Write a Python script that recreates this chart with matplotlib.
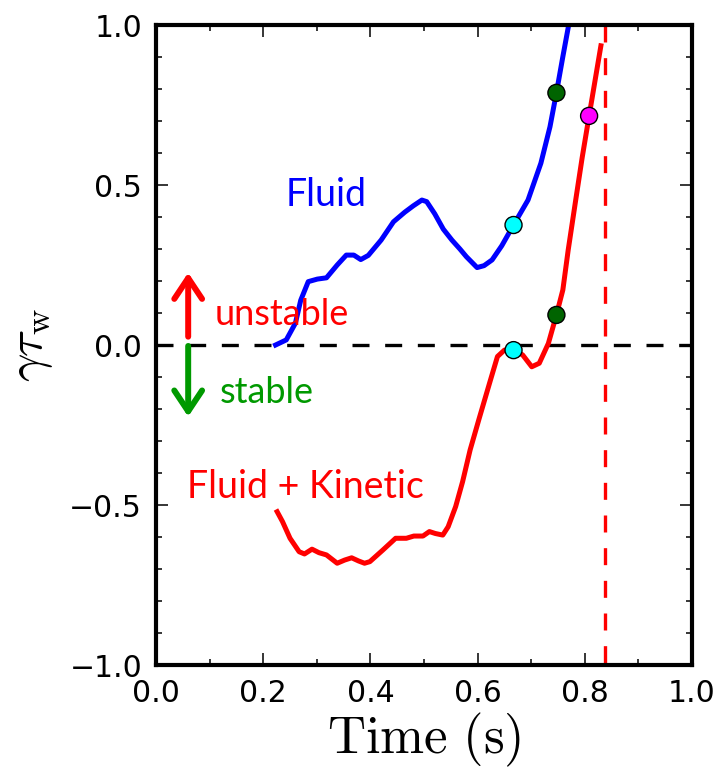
import numpy as np
import matplotlib
matplotlib.use('Agg')
import matplotlib.pyplot as plt

# curva fluida (azul)
t_fluid = [0.223, 0.243, 0.260, 0.270, 0.284, 0.301, 0.318, 0.338, 0.355, 0.369,
           0.382, 0.396, 0.420, 0.443, 0.464, 0.480, 0.496, 0.505, 0.520, 0.536,
           0.552, 0.567, 0.579, 0.599, 0.612, 0.627, 0.645, 0.667, 0.694, 0.718,
           0.735, 0.747, 0.759, 0.771]
g_fluid = [0.000, 0.016, 0.068, 0.140, 0.198, 0.206, 0.210, 0.250, 0.281, 0.281,
           0.267, 0.280, 0.328, 0.385, 0.415, 0.435, 0.453, 0.448, 0.410, 0.362,
           0.328, 0.300, 0.276, 0.242, 0.248, 0.266, 0.310, 0.375, 0.453, 0.568,
           0.682, 0.788, 0.901, 1.010]

# curva fluida + cinetica (roja)
t_kin = [0.226, 0.236, 0.250, 0.267, 0.277, 0.291, 0.304, 0.318, 0.338, 0.352,
         0.365, 0.378, 0.389, 0.399, 0.423, 0.447, 0.467, 0.481, 0.498, 0.510,
         0.521, 0.535, 0.545, 0.559, 0.572, 0.586, 0.603, 0.623, 0.637, 0.650,
         0.667, 0.684, 0.701, 0.715, 0.732, 0.747, 0.759, 0.769, 0.783, 0.795,
         0.808, 0.830]
g_kin = [-0.521, -0.552, -0.604, -0.646, -0.653, -0.638, -0.649, -0.656, -0.682, -0.672,
         -0.665, -0.675, -0.682, -0.677, -0.641, -0.604, -0.604, -0.597, -0.597, -0.583,
         -0.589, -0.594, -0.568, -0.505, -0.427, -0.328, -0.229, -0.115, -0.036, -0.016,
         -0.016, -0.031, -0.068, -0.057, 0.005, 0.094, 0.172, 0.297, 0.453, 0.585,
         0.716, 0.935]

# puntos marcados
pt_t = [0.667, 0.747, 0.667, 0.747, 0.808]
pt_g = [0.375, 0.788, -0.016, 0.094, 0.716]
pt_c = ['#00ffff', '#006400', '#00ffff', '#006400', '#ff00ff']

t_disrupt = 0.838

plt.rcParams['mathtext.fontset'] = 'cm'
plt.rcParams['xtick.direction'] = 'in'
plt.rcParams['ytick.direction'] = 'in'
plt.rcParams['xtick.top'] = True
plt.rcParams['ytick.right'] = True

fig = plt.figure(figsize=(7.21, 7.72), dpi=100)
ax = fig.add_axes([0.2164, 0.1386, 0.7434, 0.829])

ax.axhline(0, color='black', lw=2.4, linestyle=(0, (5.1, 4.7)), zorder=1)
ax.plot([t_disrupt, t_disrupt], [1, -1], color='red', lw=2.4, linestyle=(0, (5.1, 4.7)), zorder=1)

ax.plot(t_fluid, g_fluid, color='blue', lw=3.6, zorder=2)
ax.plot(t_kin, g_kin, color='red', lw=3.6, zorder=2)
ax.scatter(pt_t, pt_g, s=150, c=pt_c, edgecolors='black', linewidths=1, zorder=3)

# textos
fnt = ['Lato', 'DejaVu Sans']
ax.text(0.2425, 0.434, 'Fluid', color='blue', fontsize=27, family=fnt, va='baseline')
ax.text(0.110, 0.0625, 'unstable', color='red', fontsize=26, family=fnt, va='baseline')
ax.text(0.119, -0.180, 'stable', color='#009900', fontsize=26, family=fnt, va='baseline')
ax.text(0.057, -0.479, 'Fluid + Kinetic', color='red', fontsize=27, family=fnt, va='baseline')

# flechas
ax.annotate('', xy=(0.06, 0.226), xytext=(0.06, 0.026),
            arrowprops=dict(arrowstyle='->,head_length=0.75,head_width=0.5', lw=4.3,
                            color='red', mutation_scale=20, shrinkA=0, shrinkB=0))
ax.annotate('', xy=(0.06, -0.224), xytext=(0.06, -0.003),
            arrowprops=dict(arrowstyle='->,head_length=0.75,head_width=0.5', lw=4.3,
                            color='#009900', mutation_scale=20, shrinkA=0, shrinkB=0))

ax.set_xlim(0, 1)
ax.set_ylim(-1, 1)
ax.set_xticks(np.arange(0, 1.01, 0.2))
ax.set_xticks(np.arange(0, 1.01, 0.1), minor=True)
ax.set_yticks(np.arange(-1, 1.01, 0.5))
ax.set_yticks(np.arange(-1, 1.01, 0.1), minor=True)
ax.tick_params(which='major', length=8.5, width=1.1, labelsize=21.5, pad=10)
ax.tick_params(which='minor', length=4.5, width=1.1)
for s in ax.spines.values():
    s.set_linewidth(3)

ax.set_xlabel(r'$\mathrm{Time\ (s)}$', fontsize=38, labelpad=2)
ax.set_ylabel(r'$\gamma\tau_\mathrm{w}$', fontsize=36, labelpad=10)

fig.savefig('out.png', dpi=100)
